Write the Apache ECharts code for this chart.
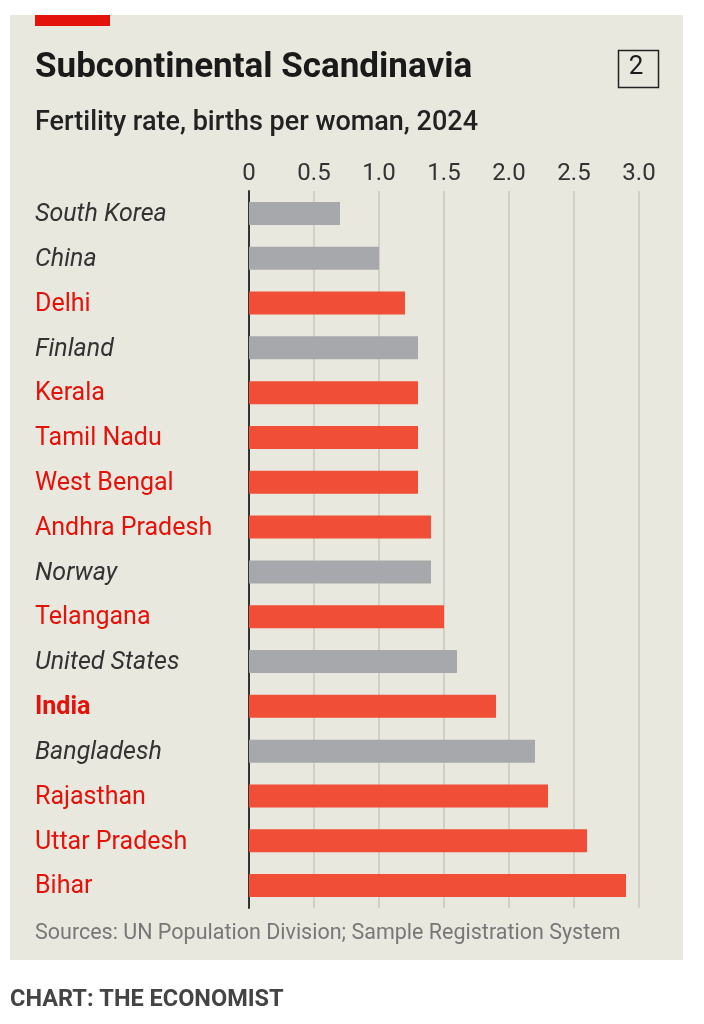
<!DOCTYPE html>
<html>
<head>
<meta charset="utf-8">
<script src="https://cdn.jsdelivr.net/npm/echarts@6/dist/echarts.min.js"></script>
<style>
  html, body { margin: 0; padding: 0; background: #ffffff; }
  #main { width: 704px; height: 1024px; }
</style>
</head>
<body>
<div id="main"></div>
<script>
// fertility rate, births per woman, 2024
var categories = ['South Korea', 'China', 'Delhi', 'Finland', 'Kerala', 'Tamil Nadu', 'West Bengal',
    'Andhra Pradesh', 'Norway', 'Telangana', 'United States', 'India', 'Bangladesh', 'Rajasthan',
    'Uttar Pradesh', 'Bihar'];
var values = [0.7, 1.0, 1.2, 1.3, 1.3, 1.3, 1.3, 1.4, 1.4, 1.5, 1.6, 1.9, 2.2, 2.3, 2.6, 2.9];
// c = other country, s = indian state, i = india
var groups = ['c', 'c', 's', 'c', 's', 's', 's', 's', 'c', 's', 'c', 'i', 'c', 's', 's', 's'];
var ticks = [0, 0.5, 1.0, 1.5, 2.0, 2.5, 3.0];

var RED = '#E3120B';
var BAR_RED = '#F04E36';
var BAR_GREY = '#A7A8AC';

var chart = echarts.init(document.getElementById('main'));

var barData = values.map(function (v, i) {
    return {
        value: v,
        itemStyle: { color: groups[i] === 'c' ? BAR_GREY : BAR_RED }
    };
});

var option = {
    animation: false,
    textStyle: { fontFamily: 'Roboto' },
    graphic: [
        // panel
        { type: 'rect', left: 10, top: 15, shape: { width: 673, height: 945 },
          style: { fill: '#E9E8DE' }, z: -10 },
        { type: 'rect', left: 35, top: 15, shape: { width: 75, height: 11 },
          style: { fill: RED } },
        { type: 'text', left: 35, top: 51,
          style: { text: 'Subcontinental Scandinavia', font: 'bold 35px Roboto', fill: '#1a1a1a' } },
        { type: 'rect', left: 616, top: 48, shape: { width: 40, height: 37 },
          style: { fill: 'none', stroke: '#222', lineWidth: 1.5 } },
        { type: 'text', x: 636, y: 67,
          style: { text: '2', font: '26px Roboto', fill: '#1a1a1a', align: 'center', verticalAlign: 'middle' } },
        { type: 'text', left: 35, top: 110,
          style: { text: 'Fertility rate, births per woman, 2024', font: '500 27px Roboto', fill: '#222' } },
        { type: 'text', left: 35, top: 923,
          style: { text: 'Sources: UN Population Division; Sample Registration System', font: '21.5px Roboto', fill: '#777' } },
        { type: 'text', left: 10, top: 988,
          style: { text: 'CHART: THE ECONOMIST', font: 'bold 23.5px Roboto', fill: '#444' } }
    ],
    grid: { left: 249, right: 65, top: 191, bottom: 116 },
    xAxis: {
        type: 'value',
        position: 'top',
        min: 0,
        max: 3,
        interval: 0.5,
        axisLine: { show: false },
        axisTick: { show: false },
        axisLabel: {
            color: '#333',
            fontSize: 24,
            margin: 5,
            formatter: function (v) {
                var t = ticks.indexOf(v);
                if (t < 0) return '';
                return v === 0 ? '0' : v.toFixed(1);
            }
        },
        splitLine: { show: true, lineStyle: { color: '#C9C8BF', width: 1.5 } }
    },
    yAxis: {
        type: 'category',
        inverse: true,
        data: categories,
        axisLine: { show: true, lineStyle: { color: '#333', width: 2 } },
        axisTick: { show: false },
        axisLabel: {
            align: 'left',
            margin: 214,
            formatter: function (v, i) {
                var g = groups[i];
                if (g === 'c') return '{c|' + v + '}';
                if (g === 'i') return '{i|' + v + '}';
                return '{s|' + v + '}';
            },
            rich: {
                c: { color: '#333', fontSize: 25, fontStyle: 'italic', padding: [3, 0, 0, 0] },
                s: { color: RED, fontSize: 25, padding: [3, 0, 0, 0] },
                i: { color: RED, fontSize: 25, fontWeight: 'bold', padding: [3, 0, 0, 0] }
            }
        }
    },
    series: [{
        type: 'bar',
        data: barData,
        barWidth: 23,
        silent: true
    }]
};
chart.setOption(option);
</script>
</body>
</html>
